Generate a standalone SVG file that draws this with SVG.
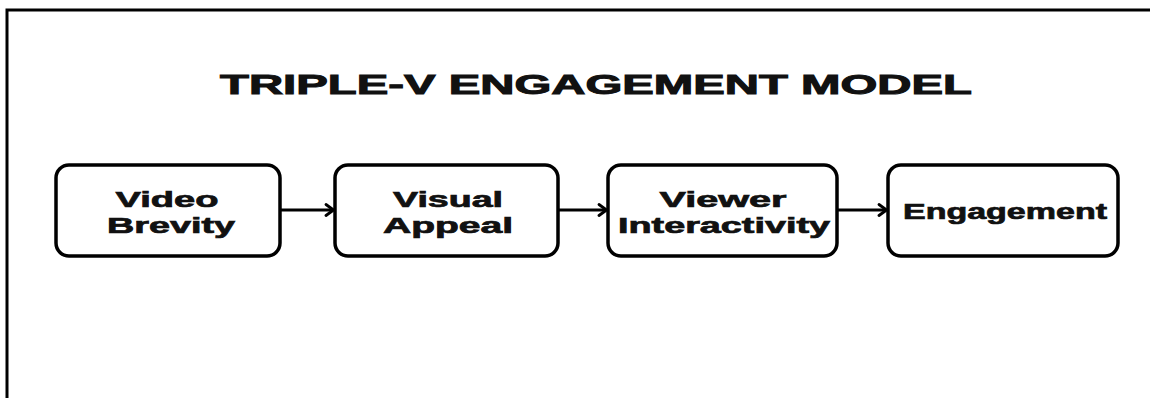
<svg xmlns="http://www.w3.org/2000/svg" width="1150" height="398" viewBox="0 0 1150 398">
  <style>
    .frame { fill: none; stroke: #000; stroke-width: 3; }
    .box { fill: #fff; stroke: #000; stroke-width: 3.5; }
    .label { font-family: "Liberation Sans", Arial, sans-serif; font-weight: bold; font-size: 22px; fill: #111; stroke: #111; stroke-width: 0.7; text-anchor: middle; }
    .title { font-family: "Liberation Sans", Arial, sans-serif; font-weight: bold; font-size: 28px; fill: #111; stroke: #111; stroke-width: 1; text-anchor: middle; }
    .link { fill: none; stroke: #000; stroke-width: 2.8; }
  </style>
  <defs>
    <marker id="head" markerWidth="14" markerHeight="14" refX="10.5" refY="7" orient="auto" markerUnits="userSpaceOnUse">
      <path d="M3.5,1.5 L11,7 L3.5,12.5" fill="none" stroke="#000" stroke-width="2.8" stroke-linecap="round" stroke-linejoin="round"/>
    </marker>
  </defs>
  <rect width="1150" height="398" fill="#fff"/>
  <path class="frame" d="M7,398 V10 H1150"/>

  <text class="title" x="596" y="94" textLength="752" lengthAdjust="spacingAndGlyphs">TRIPLE-V ENGAGEMENT MODEL</text>

  <g id="connectors">
    <line class="link" x1="280" y1="210" x2="333" y2="210" marker-end="url(#head)"/>
    <line class="link" x1="558" y1="210" x2="606" y2="210" marker-end="url(#head)"/>
    <line class="link" x1="837" y1="210" x2="886" y2="210" marker-end="url(#head)"/>
  </g>

  <g id="node-video-brevity">
    <rect class="box" x="56" y="165" width="224" height="91" rx="13"/>
    <text class="label" x="167" y="207" textLength="103" lengthAdjust="spacingAndGlyphs">Video</text>
    <text class="label" x="171" y="233" textLength="128" lengthAdjust="spacingAndGlyphs">Brevity</text>
  </g>

  <g id="node-visual-appeal">
    <rect class="box" x="335" y="165" width="223" height="91" rx="13"/>
    <text class="label" x="448" y="207" textLength="110" lengthAdjust="spacingAndGlyphs">Visual</text>
    <text class="label" x="448" y="233" textLength="130" lengthAdjust="spacingAndGlyphs">Appeal</text>
  </g>

  <g id="node-viewer-interactivity">
    <rect class="box" x="608" y="165" width="229" height="91" rx="13"/>
    <text class="label" x="723" y="207" textLength="127" lengthAdjust="spacingAndGlyphs">Viewer</text>
    <text class="label" x="724" y="233" textLength="212" lengthAdjust="spacingAndGlyphs">Interactivity</text>
  </g>

  <g id="node-engagement">
    <rect class="box" x="888" y="165" width="230" height="91" rx="13"/>
    <text class="label" x="1005" y="219" textLength="204" lengthAdjust="spacingAndGlyphs">Engagement</text>
  </g>
</svg>
